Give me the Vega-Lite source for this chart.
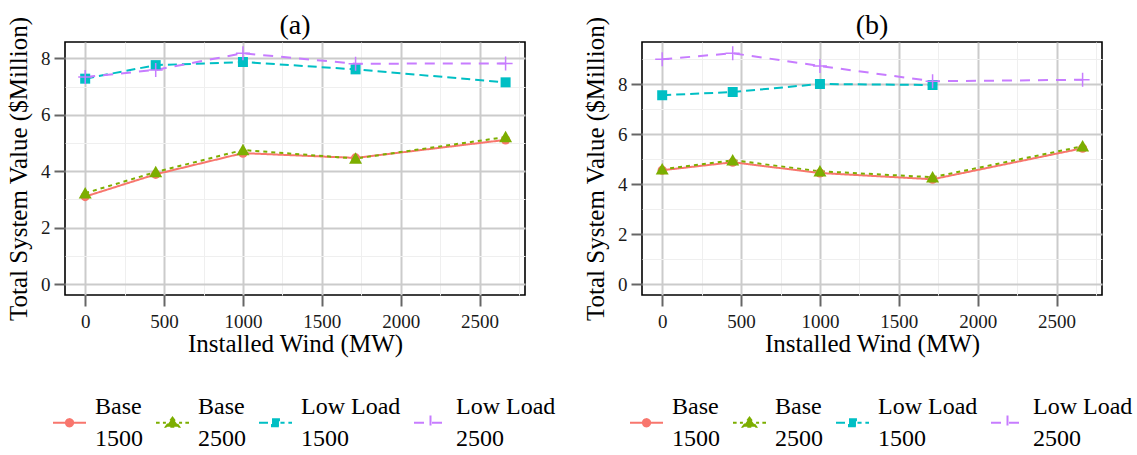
{
  "$schema": "https://vega.github.io/schema/vega-lite/v6.json",
  "background": "white",
  "padding": {"left": 5, "top": 11, "right": 5, "bottom": 0},
  "bounds": "flush",
  "spacing": 117,
  "resolve": {
    "scale": {"color": "independent", "stroke": "independent", "shape": "independent", "strokeDash": "independent"},
    "legend": {"color": "independent", "stroke": "independent", "shape": "independent"}
  },
  "datasets": {
    "d": [
      {"panel": "a", "series": "Base 1500", "wind": 0, "value": 3.10},
      {"panel": "a", "series": "Base 1500", "wind": 447, "value": 3.89},
      {"panel": "a", "series": "Base 1500", "wind": 1000, "value": 4.64},
      {"panel": "a", "series": "Base 1500", "wind": 1714, "value": 4.47},
      {"panel": "a", "series": "Base 1500", "wind": 2665, "value": 5.11},
      {"panel": "a", "series": "Base 2500", "wind": 0, "value": 3.22},
      {"panel": "a", "series": "Base 2500", "wind": 447, "value": 3.97},
      {"panel": "a", "series": "Base 2500", "wind": 1000, "value": 4.75},
      {"panel": "a", "series": "Base 2500", "wind": 1714, "value": 4.45},
      {"panel": "a", "series": "Base 2500", "wind": 2665, "value": 5.21},
      {"panel": "a", "series": "Low Load 1500", "wind": 0, "value": 7.28},
      {"panel": "a", "series": "Low Load 1500", "wind": 447, "value": 7.76},
      {"panel": "a", "series": "Low Load 1500", "wind": 1000, "value": 7.87},
      {"panel": "a", "series": "Low Load 1500", "wind": 1714, "value": 7.61},
      {"panel": "a", "series": "Low Load 1500", "wind": 2665, "value": 7.15},
      {"panel": "a", "series": "Low Load 2500", "wind": 0, "value": 7.34},
      {"panel": "a", "series": "Low Load 2500", "wind": 447, "value": 7.59},
      {"panel": "a", "series": "Low Load 2500", "wind": 1000, "value": 8.18},
      {"panel": "a", "series": "Low Load 2500", "wind": 1714, "value": 7.81},
      {"panel": "a", "series": "Low Load 2500", "wind": 2665, "value": 7.82},
      {"panel": "b", "series": "Base 1500", "wind": 0, "value": 4.55},
      {"panel": "b", "series": "Base 1500", "wind": 447, "value": 4.87},
      {"panel": "b", "series": "Base 1500", "wind": 1000, "value": 4.44},
      {"panel": "b", "series": "Base 1500", "wind": 1714, "value": 4.19},
      {"panel": "b", "series": "Base 1500", "wind": 2665, "value": 5.43},
      {"panel": "b", "series": "Base 2500", "wind": 0, "value": 4.59},
      {"panel": "b", "series": "Base 2500", "wind": 447, "value": 4.95},
      {"panel": "b", "series": "Base 2500", "wind": 1000, "value": 4.51},
      {"panel": "b", "series": "Base 2500", "wind": 1714, "value": 4.27},
      {"panel": "b", "series": "Base 2500", "wind": 2665, "value": 5.51},
      {"panel": "b", "series": "Low Load 1500", "wind": 0, "value": 7.55},
      {"panel": "b", "series": "Low Load 1500", "wind": 447, "value": 7.68},
      {"panel": "b", "series": "Low Load 1500", "wind": 1000, "value": 8.00},
      {"panel": "b", "series": "Low Load 1500", "wind": 1714, "value": 7.96},
      {"panel": "b", "series": "Low Load 2500", "wind": 0, "value": 8.99},
      {"panel": "b", "series": "Low Load 2500", "wind": 447, "value": 9.23},
      {"panel": "b", "series": "Low Load 2500", "wind": 1000, "value": 8.72},
      {"panel": "b", "series": "Low Load 2500", "wind": 1714, "value": 8.11},
      {"panel": "b", "series": "Low Load 2500", "wind": 2665, "value": 8.17}
    ]
  },
  "config": {
    "font": "Liberation Serif",
    "view": {"stroke": "black", "strokeWidth": 1.6},
    "axis": {
      "labelFont": "Liberation Serif", "titleFont": "Liberation Serif",
      "labelFontSize": 19, "titleFontSize": 25, "titleFontWeight": "normal",
      "labelColor": "#1a1a1a", "titleColor": "black",
      "domain": false, "tickColor": "#666666", "tickWidth": 2, "tickSize": 11,
      "labelPadding": 4, "gridColor": "#cbcbcb", "gridWidth": 2
    },
    "axisX": {"labelPadding": 6},
    "title": {"font": "Liberation Serif", "fontSize": 28, "fontWeight": "normal", "color": "black", "offset": -24, "frame": "group"},
    "style": {"guide-label": {"lineHeight": 32}}
  },
  "hconcat": [
    {
      "title": {"text": "(a)"},
      "width": 460, "height": 253,
      "data": {"name": "d"},
      "transform": [{"filter": "datum.panel === 'a'"}],
      "encoding": {
        "x": {"field": "wind", "type": "quantitative", "scale": {"domain": [-128, 2788], "nice": false, "zero": false}, "axis": null},
        "y": {"field": "value", "type": "quantitative", "scale": {"domain": [-0.39, 8.58], "nice": false, "zero": false}, "axis": null}
      },
      "layer": [
        {
          "transform": [{"filter": "false"}],
          "mark": {"type": "point", "filled": true, "opacity": 1, "strokeWidth": 2},
          "encoding": {
            "color": {"field": "series", "type": "nominal", "scale": {"domain": ["Base 1500", "Base 2500", "Low Load 1500", "Low Load 2500"], "range": ["#F8766D", "#7CAE00", "#00BFC4", "#C77CFF"]},
              "legend": {"orient": "none", "legendX": -13, "legendY": 363, "direction": "horizontal", "title": null, "labelExpr": "[slice(datum.label, 0, lastindexof(datum.label, ' ')), slice(datum.label, lastindexof(datum.label, ' ') + 1)]", "labelBaseline": "line-bottom", "symbolSize": 1089, "symbolStrokeWidth": 2, "symbolOpacity": 1, "labelFontSize": 24, "labelFont": "Liberation Serif", "labelColor": "black", "columnPadding": 9, "labelOffset": 8, "labelLimit": 300}},
            "stroke": {"field": "series", "type": "nominal", "scale": {"domain": ["Base 1500", "Base 2500", "Low Load 1500", "Low Load 2500"], "range": ["#F8766D", "#7CAE00", "#00BFC4", "#C77CFF"]},
              "legend": {"orient": "none", "legendX": -13, "legendY": 363, "direction": "horizontal", "title": null, "labelExpr": "[slice(datum.label, 0, lastindexof(datum.label, ' ')), slice(datum.label, lastindexof(datum.label, ' ') + 1)]", "labelBaseline": "line-bottom", "symbolSize": 1089, "symbolStrokeWidth": 2, "symbolOpacity": 1, "labelFontSize": 24, "labelFont": "Liberation Serif", "labelColor": "black", "columnPadding": 9, "labelOffset": 8, "labelLimit": 300}},
            "shape": {"field": "series", "type": "nominal", "scale": {"domain": ["Base 1500", "Base 2500", "Low Load 1500", "Low Load 2500"],
                "range": ["M-1,0L1,0M-0.22,0A0.22,0.22,0,1,0,0.22,0A0.22,0.22,0,1,0,-0.22,0Z",
                          "M-1,0L-0.78,0M-0.58,0L-0.4,0M0.4,0L0.58,0M0.78,0L1,0M0,-0.31L0.4,0.24L-0.4,0.24Z",
                          "M-1,0L-0.45,0M0.3,0L0.55,0M0.78,0L1,0M-0.21,-0.21L0.21,-0.21L0.21,0.21L-0.21,0.21Z",
                          "M-1,0L1,0M0,-0.44L0,0.44"]},
              "legend": {"orient": "none", "legendX": -13, "legendY": 363, "direction": "horizontal", "title": null, "labelExpr": "[slice(datum.label, 0, lastindexof(datum.label, ' ')), slice(datum.label, lastindexof(datum.label, ' ') + 1)]", "labelBaseline": "line-bottom", "symbolSize": 1089, "symbolStrokeWidth": 2, "symbolOpacity": 1, "labelFontSize": 24, "labelFont": "Liberation Serif", "labelColor": "black", "columnPadding": 9, "labelOffset": 8, "labelLimit": 300}}
          }
        },
        {
          "mark": {"type": "line", "strokeWidth": 2},
          "encoding": {
            "x": {"field": "wind", "type": "quantitative", "scale": {"domain": [-128, 2788], "nice": false, "zero": false},
                  "axis": {"orient": "bottom", "values": [250, 750, 1250, 1750, 2250, 2750], "grid": true, "gridColor": "#efefef", "gridWidth": 1, "labels": false, "ticks": false, "domain": false, "title": null}},
            "y": {"field": "value", "type": "quantitative", "scale": {"domain": [-0.39, 8.58], "nice": false, "zero": false},
                  "axis": {"orient": "left", "values": [1, 3, 5, 7], "grid": true, "gridColor": "#efefef", "gridWidth": 1, "labels": false, "ticks": false, "domain": false, "title": null}},
            "color": {"field": "series", "type": "nominal", "legend": null},
            "strokeDash": {"field": "series", "type": "nominal", "scale": {"domain": ["Base 1500", "Base 2500", "Low Load 1500", "Low Load 2500"], "range": [[1, 0], [4, 4], [9, 5], [10, 8]]}, "legend": null}
          }
        },
        {
          "transform": [{"filter": "datum.series === 'Base 1500'"}],
          "mark": {"type": "point", "filled": true, "opacity": 1, "size": 85, "shape": "circle"},
          "encoding": {
            "x": {"field": "wind", "type": "quantitative", "scale": {"domain": [-128, 2788], "nice": false, "zero": false},
                  "axis": {"orient": "bottom", "values": [0, 500, 1000, 1500, 2000, 2500], "grid": true, "title": "Installed Wind (MW)", "titlePadding": 0, "format": "d"}},
            "y": {"field": "value", "type": "quantitative", "scale": {"domain": [-0.39, 8.58], "nice": false, "zero": false},
                  "axis": {"orient": "left", "values": [0, 2, 4, 6, 8], "grid": true, "title": "Total System Value ($Million)", "titlePadding": 9}},
            "color": {"field": "series", "type": "nominal", "legend": null}
          }
        },
        {
          "transform": [{"filter": "datum.series === 'Base 2500'"}],
          "mark": {"type": "point", "filled": true, "opacity": 1, "size": 100, "shape": "M0,-1.25L1.3,1.05L-1.3,1.05Z"},
          "encoding": {"color": {"field": "series", "type": "nominal", "legend": null}}
        },
        {
          "transform": [{"filter": "datum.series === 'Low Load 1500'"}],
          "mark": {"type": "point", "filled": true, "opacity": 1, "size": 100, "shape": "square"},
          "encoding": {"color": {"field": "series", "type": "nominal", "legend": null}}
        },
        {
          "transform": [{"filter": "datum.series === 'Low Load 2500'"}],
          "mark": {"type": "point", "filled": false, "opacity": 1, "size": 100, "strokeWidth": 1.5, "shape": "M-1.4,0L1.4,0M0,-1.4L0,1.4"},
          "encoding": {"color": {"field": "series", "type": "nominal", "legend": null}}
        }
      ],
      "resolve": {"axis": {"x": "independent", "y": "independent"}}
    },
    {
      "title": {"text": "(b)"},
      "width": 460, "height": 253,
      "data": {"name": "d"},
      "transform": [{"filter": "datum.panel === 'b'"}],
      "encoding": {
        "x": {"field": "wind", "type": "quantitative", "scale": {"domain": [-128, 2788], "nice": false, "zero": false}, "axis": null},
        "y": {"field": "value", "type": "quantitative", "scale": {"domain": [-0.44, 9.68], "nice": false, "zero": false}, "axis": null}
      },
      "layer": [
        {
          "transform": [{"filter": "false"}],
          "mark": {"type": "point", "filled": true, "opacity": 1, "strokeWidth": 2},
          "encoding": {
            "color": {"field": "series", "type": "nominal", "scale": {"domain": ["Base 1500", "Base 2500", "Low Load 1500", "Low Load 2500"], "range": ["#F8766D", "#7CAE00", "#00BFC4", "#C77CFF"]},
              "legend": {"orient": "none", "legendX": -13, "legendY": 363, "direction": "horizontal", "title": null, "labelExpr": "[slice(datum.label, 0, lastindexof(datum.label, ' ')), slice(datum.label, lastindexof(datum.label, ' ') + 1)]", "labelBaseline": "line-bottom", "symbolSize": 1089, "symbolStrokeWidth": 2, "symbolOpacity": 1, "labelFontSize": 24, "labelFont": "Liberation Serif", "labelColor": "black", "columnPadding": 9, "labelOffset": 8, "labelLimit": 300}},
            "stroke": {"field": "series", "type": "nominal", "scale": {"domain": ["Base 1500", "Base 2500", "Low Load 1500", "Low Load 2500"], "range": ["#F8766D", "#7CAE00", "#00BFC4", "#C77CFF"]},
              "legend": {"orient": "none", "legendX": -13, "legendY": 363, "direction": "horizontal", "title": null, "labelExpr": "[slice(datum.label, 0, lastindexof(datum.label, ' ')), slice(datum.label, lastindexof(datum.label, ' ') + 1)]", "labelBaseline": "line-bottom", "symbolSize": 1089, "symbolStrokeWidth": 2, "symbolOpacity": 1, "labelFontSize": 24, "labelFont": "Liberation Serif", "labelColor": "black", "columnPadding": 9, "labelOffset": 8, "labelLimit": 300}},
            "shape": {"field": "series", "type": "nominal", "scale": {"domain": ["Base 1500", "Base 2500", "Low Load 1500", "Low Load 2500"],
                "range": ["M-1,0L1,0M-0.22,0A0.22,0.22,0,1,0,0.22,0A0.22,0.22,0,1,0,-0.22,0Z",
                          "M-1,0L-0.78,0M-0.58,0L-0.4,0M0.4,0L0.58,0M0.78,0L1,0M0,-0.31L0.4,0.24L-0.4,0.24Z",
                          "M-1,0L-0.45,0M0.3,0L0.55,0M0.78,0L1,0M-0.21,-0.21L0.21,-0.21L0.21,0.21L-0.21,0.21Z",
                          "M-1,0L1,0M0,-0.44L0,0.44"]},
              "legend": {"orient": "none", "legendX": -13, "legendY": 363, "direction": "horizontal", "title": null, "labelExpr": "[slice(datum.label, 0, lastindexof(datum.label, ' ')), slice(datum.label, lastindexof(datum.label, ' ') + 1)]", "labelBaseline": "line-bottom", "symbolSize": 1089, "symbolStrokeWidth": 2, "symbolOpacity": 1, "labelFontSize": 24, "labelFont": "Liberation Serif", "labelColor": "black", "columnPadding": 9, "labelOffset": 8, "labelLimit": 300}}
          }
        },
        {
          "mark": {"type": "line", "strokeWidth": 2},
          "encoding": {
            "x": {"field": "wind", "type": "quantitative", "scale": {"domain": [-128, 2788], "nice": false, "zero": false},
                  "axis": {"orient": "bottom", "values": [250, 750, 1250, 1750, 2250, 2750], "grid": true, "gridColor": "#efefef", "gridWidth": 1, "labels": false, "ticks": false, "domain": false, "title": null}},
            "y": {"field": "value", "type": "quantitative", "scale": {"domain": [-0.44, 9.68], "nice": false, "zero": false},
                  "axis": {"orient": "left", "values": [1, 3, 5, 7, 9], "grid": true, "gridColor": "#efefef", "gridWidth": 1, "labels": false, "ticks": false, "domain": false, "title": null}},
            "color": {"field": "series", "type": "nominal", "legend": null},
            "strokeDash": {"field": "series", "type": "nominal", "scale": {"domain": ["Base 1500", "Base 2500", "Low Load 1500", "Low Load 2500"], "range": [[1, 0], [4, 4], [9, 5], [10, 8]]}, "legend": null}
          }
        },
        {
          "transform": [{"filter": "datum.series === 'Base 1500'"}],
          "mark": {"type": "point", "filled": true, "opacity": 1, "size": 85, "shape": "circle"},
          "encoding": {
            "x": {"field": "wind", "type": "quantitative", "scale": {"domain": [-128, 2788], "nice": false, "zero": false},
                  "axis": {"orient": "bottom", "values": [0, 500, 1000, 1500, 2000, 2500], "grid": true, "title": "Installed Wind (MW)", "titlePadding": 0, "format": "d"}},
            "y": {"field": "value", "type": "quantitative", "scale": {"domain": [-0.44, 9.68], "nice": false, "zero": false},
                  "axis": {"orient": "left", "values": [0, 2, 4, 6, 8], "grid": true, "title": "Total System Value ($Million)", "titlePadding": 9}},
            "color": {"field": "series", "type": "nominal", "legend": null}
          }
        },
        {
          "transform": [{"filter": "datum.series === 'Base 2500'"}],
          "mark": {"type": "point", "filled": true, "opacity": 1, "size": 100, "shape": "M0,-1.25L1.3,1.05L-1.3,1.05Z"},
          "encoding": {"color": {"field": "series", "type": "nominal", "legend": null}}
        },
        {
          "transform": [{"filter": "datum.series === 'Low Load 1500'"}],
          "mark": {"type": "point", "filled": true, "opacity": 1, "size": 100, "shape": "square"},
          "encoding": {"color": {"field": "series", "type": "nominal", "legend": null}}
        },
        {
          "transform": [{"filter": "datum.series === 'Low Load 2500'"}],
          "mark": {"type": "point", "filled": false, "opacity": 1, "size": 100, "strokeWidth": 1.5, "shape": "M-1.4,0L1.4,0M0,-1.4L0,1.4"},
          "encoding": {"color": {"field": "series", "type": "nominal", "legend": null}}
        }
      ],
      "resolve": {"axis": {"x": "independent", "y": "independent"}}
    }
  ]
}
